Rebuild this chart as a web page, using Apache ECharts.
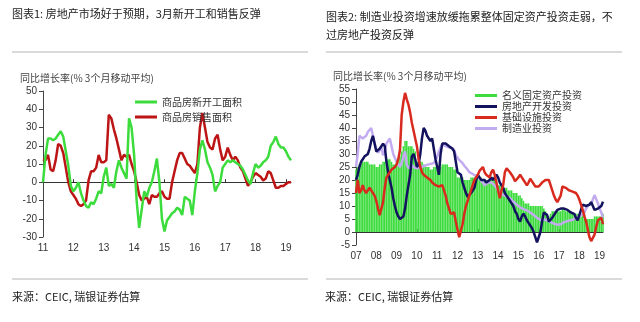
<!DOCTYPE html>
<html>
<head>
<meta charset="utf-8">
<script src="https://cdn.jsdelivr.net/npm/echarts@6/dist/echarts.min.js"></script>
<style>
  html, body { margin: 0; padding: 0; background: #fff; }
  #chart { width: 640px; height: 322px; }
</style>
</head>
<body>
<div id="chart"></div>
<script>
// ---- Chart 1: property starts vs sales (YoY %, 3mma), Jan 2011 - Mar 2019 ----
const startYear1 = 2011;
const newStarts = [
  0, 15, 24, 24, 23, 24, 26, 28, 25, 17, 9, -2,
  -5, -3, 0, -6, -10, -13, -14, -11, -12, -9, -5, -6,
  3, 8, -2, -1, -3, 6, 12, 8, 5, 2, 35, 30,
  15, -10, -25, -15, -5, -8, -3, 0, 6, 13, 0, -20,
  -27, -21, -19, -17, -16, -14, -15, -18, -8, -9, -10, -18,
  -5, 5, 18, 23, 18, 11, 8, 4, -5, -2, 0, 8,
  10, 12, 11, 12, 11, 10, 9, 7, 4, 1, -1, 5,
  10, 8, 9, 11, 12, 14, 20, 22, 25, 21, 19, 19,
  17, 14, 12
];
const sales = [
  12.6, 12, 15, 7, 6, 12, 21, 20, 16, 8, 0, -5,
  -7, -9, -12, -13, -12, -10, 1, 6, 6, 8, 15, 11,
  11, 12, 37, 35, 29, 24, 18, 12, 15, 14, 15, 10,
  6, 0, -7, -10, -9, -8, -12, -7, -8, -8, -6, -5,
  -8, -9, -9, 0, 6, 12, 16, 16, 13, 10, 9, 7,
  5, 10, 30, 38, 30, 22, 19, 18, 24, 26, 18, 12,
  14, 19, 15, 12, 14, 12, 8, 6, 2, -2, 0, 3,
  5, 4, 3, 1, 2, 6, 5, 1, -3, -3, -2, -2,
  -1, 0, 0
];

// ---- Chart 2: investment breakdown (YoY %, 3mma), Jan 2007 - Mar 2019 ----
const startYear2 = 2007;
const faiNominal = [
  24, 25, 26, 26, 27, 27, 27, 27, 26, 26, 26, 26,
  25, 25, 26, 26, 27, 27, 28, 28, 28, 27, 26, 26,
  27, 27, 29, 31, 33, 35, 35, 33, 33, 33, 32, 31,
  27, 27, 27, 27, 26, 25, 25, 25, 24, 24, 25, 25,
  25, 25, 25, 26, 26, 26, 26, 25, 25, 25, 24, 24,
  21, 21, 21, 21, 20, 20, 20, 20, 21, 21, 21, 21,
  21, 21, 21, 20, 20, 20, 20, 20, 20, 20, 20, 20,
  18, 18, 18, 17, 17, 17, 16, 16, 16, 15, 15, 15,
  14, 14, 13, 12, 11, 11, 11, 10, 10, 10, 10, 10,
  10, 10, 10, 9, 8, 7, 6, 7, 8, 8, 8, 8,
  8, 8, 9, 9, 8, 8, 8, 7, 7, 7, 7, 7,
  6, 6, 7, 7, 5, 5, 5, 5, 5, 6, 6, 6,
  6, 6, 7
];
const realEstateInv = [
  20, 22, 25, 27, 28, 29, 29.5, 30, 32, 35, 37, 34,
  31, 31, 32, 33, 34, 33, 27, 23, 20, 17, 13, 10,
  7.5, 6, 5, 4.5, 6, 9, 14, 18, 22, 29, 30, 28,
  25, 26, 30, 36, 40, 39, 37, 36.5, 35, 36, 32, 28,
  25, 22, 30, 34, 34, 34, 33.5, 33, 33, 32, 31, 27,
  23, 23, 22, 19, 17, 15, 13.5, 14, 15, 15, 17, 20,
  22, 21, 20, 20, 20, 19, 19, 20, 21, 20, 21, 22,
  21, 19, 18, 17, 15, 14, 13, 12, 11, 10, 8, 7,
  5, 4, 6, 7, 6, 4.5, 3.5, 2.5, 1.5, 0, -2, -4,
  -3.5, 0, 4, 7.5, 7.5, 6.5, 4, 4.5, 5.5, 6.5, 7.5, 8.5,
  9, 9, 9.5, 9, 9, 8.5, 8, 7.5, 7.5, 7, 5.5, 4.5,
  6.5, 8.5, 10.5, 10, 10, 9.5, 10.5, 11.5, 10, 8.5, 9, 9,
  9, 10, 11.7
];
const infraInv = [
  15, 20, 15, 16, 18, 16, 15, 16, 17, 16, 15, 14,
  12, 9, 6.5, 9, 11.5, 17, 21, 22, 23, 24, 24, 25,
  26, 28, 31.5, 45, 50, 53.5, 51, 49, 46, 42, 39, 36,
  33, 28, 25, 23, 22, 22, 21, 21, 20, 19, 18.5, 18,
  18, 17.5, 17, 18, 18.5, 14, 11, 9, 7, 7.5, 7.5, 4,
  1, -2, -2.5, 3, 7, 10, 12, 14, 16, 18, 20, 21,
  22, 23.5, 24, 25, 23, 22, 22, 21, 23, 24, 22, 19,
  16, 13, 16, 18, 23, 24.5, 24, 23, 22, 21, 19.5, 19,
  21, 22, 21, 20, 19, 18, 19, 20.5, 20, 18.5, 17.5, 17,
  17.5, 18, 19, 19.5, 20, 20.5, 20, 18, 16, 14, 12.5, 11.5,
  11, 14, 17.5, 18, 17, 16.5, 16, 15.5, 15.5, 15, 15, 14,
  12.5, 10.5, 8.5, 6, 4, 1, -2, -3.5, -4, -1, 2, 4.5,
  5, 5.5, 3
];
const manufInv = [
  25, 30, 37, 37, 36, 36.5, 37, 38.5, 39, 40, 37, 34,
  32, 30.5, 31, 32.5, 29.5, 31, 34, 35, 36, 33, 30, 28.5,
  27, 26, 25, 26.5, 29, 31, 26, 24.5, 25, 25.8, 25, 24.5,
  24.5, 24.8, 25, 25, 25.3, 25.6, 25.8, 26, 26.2, 26.3, 26.5, 27.5,
  29, 31, 32.5, 33.8, 33.5, 33, 32.5, 32.5, 32.3, 32.3, 31.5, 29.6,
  28.5, 27.7, 27, 26.5, 25.5, 25, 24, 23, 22.5, 22.3, 22, 21.5,
  21, 20.5, 19.8, 19, 18, 18.5, 19, 19, 19, 18.5, 18, 17,
  16, 15, 14.5, 14.3, 14, 13.7, 13.3, 13, 12.3, 11.7, 11, 10.5,
  10, 9.5, 9, 8.8, 8.5, 8.3, 8, 7.5, 7, 6.5, 6, 5.5,
  5, 4.6, 4.5, 4.8, 5, 4.5, 4, 3.8, 3.5, 3.2, 3, 2.8,
  2.7, 3, 3.5, 3.8, 4, 4.2, 4.4, 4.5, 4.6, 5, 5.4, 5.8,
  6, 6.3, 6.5, 7.5, 9, 10, 10.5, 11, 12.5, 14.2, 13.8, 11,
  9, 7.5, 5.5
];

// Month categories ("YYYY-MM") for each panel
function monthCategories(startYear, count) {
  const out = [];
  for (let i = 0; i < count; i++) {
    out.push(String(startYear + Math.floor(i / 12)) + '-' + String(i % 12 + 1).padStart(2, '0'));
  }
  return out;
}
const months1 = monthCategories(startYear1, newStarts.length);
const months2 = monthCategories(startYear2, faiNominal.length);

const CJK = '"Noto Sans CJK SC", "Liberation Sans", sans-serif';
const NUM = '"Liberation Sans", Arial, "Noto Sans CJK SC", sans-serif';
const AXIS_TITLE = '同比增长率(% 3个月移动平均)';
const SOURCE = '来源：CEIC, 瑞银证券估算';

const isJanuary = (i) => i % 12 === 0;

function zeroAxis(gridIndex, cats) {
  return {
    type: 'category', gridIndex, data: cats, boundaryGap: false,
    axisLine: { onZero: true, lineStyle: { color: '#333', width: 1 } },
    axisTick: { show: true, inside: true, length: 3, interval: isJanuary, lineStyle: { color: '#333' } },
    axisLabel: { show: false }, splitLine: { show: false }
  };
}
function labelAxis(gridIndex, cats) {
  return {
    type: 'category', gridIndex, data: cats, boundaryGap: false, position: 'bottom',
    axisLine: { show: false, onZero: false }, axisTick: { show: false },
    axisLabel: {
      interval: isJanuary, margin: 6, fontSize: 10, color: '#333', fontFamily: NUM,
      formatter: (v) => v.slice(2, 4)
    },
    splitLine: { show: false }
  };
}
function valueAxis(gridIndex, min, max, interval) {
  return {
    type: 'value', gridIndex, min, max, interval,
    axisLine: { show: true, lineStyle: { color: '#444' } },
    axisTick: { show: true, length: 4, lineStyle: { color: '#444' } },
    axisLabel: { fontSize: 10, color: '#333', fontFamily: NUM, margin: 6 },
    splitLine: { show: false }
  };
}

const chart = echarts.init(document.getElementById('chart'), null, { renderer: 'canvas' });
chart.setOption({
  backgroundColor: '#fff',
  animation: false,
  grid: [
    { left: 43, top: 91, width: 248, height: 146 },
    { left: 356, top: 89, width: 247, height: 156 }
  ],
  xAxis: [zeroAxis(0, months1), labelAxis(0, months1), zeroAxis(1, months2), labelAxis(1, months2)],
  yAxis: [valueAxis(0, -30, 50, 10), valueAxis(1, -5, 55, 5)],
  legend: [
    {
      left: 130, top: 92, orient: 'vertical', itemWidth: 22, itemHeight: 3, itemGap: 5,
      icon: 'rect', data: ['商品房新开工面积', '商品房销售面积'],
      textStyle: { fontSize: 10, color: '#333', fontFamily: CJK }
    },
    {
      left: 470, top: 85, orient: 'vertical', itemWidth: 22, itemHeight: 3, itemGap: 0,
      icon: 'rect', data: ['名义固定资产投资', '房地产开发投资', '基础设施投资', '制造业投资'],
      textStyle: { fontSize: 10, lineHeight: 11, color: '#333', fontFamily: CJK }
    }
  ],
  series: [
    {
      name: '商品房销售面积', type: 'line', xAxisIndex: 0, yAxisIndex: 0, data: sales,
      symbol: 'none', lineStyle: { color: '#bd1515', width: 2.5 }, itemStyle: { color: '#bd1515' }
    },
    {
      name: '商品房新开工面积', type: 'line', xAxisIndex: 0, yAxisIndex: 0, data: newStarts,
      symbol: 'none', lineStyle: { color: '#3ddc3d', width: 2.5 }, itemStyle: { color: '#3ddc3d' }
    },
    {
      name: '名义固定资产投资', type: 'bar', xAxisIndex: 2, yAxisIndex: 1, data: faiNominal,
      barCategoryGap: '8%', itemStyle: { color: '#3edb3e' }
    },
    {
      name: '制造业投资', type: 'line', xAxisIndex: 2, yAxisIndex: 1, data: manufInv,
      symbol: 'none', lineStyle: { color: '#c2abf0', width: 2.5 }, itemStyle: { color: '#c2abf0' }
    },
    {
      name: '房地产开发投资', type: 'line', xAxisIndex: 2, yAxisIndex: 1, data: realEstateInv,
      symbol: 'none', lineStyle: { color: '#12125e', width: 2.5 }, itemStyle: { color: '#12125e' }
    },
    {
      name: '基础设施投资', type: 'line', xAxisIndex: 2, yAxisIndex: 1, data: infraInv,
      symbol: 'none', lineStyle: { color: '#d82a1e', width: 2.5 }, itemStyle: { color: '#d82a1e' }
    }
  ],
  graphic: [
    { type: 'text', left: 12, top: 8, style: { text: '图表1: 房地产市场好于预期，3月新开工和销售反弹', fontSize: 11, fill: '#222', fontFamily: CJK } },
    { type: 'text', left: 326, top: 8, style: { text: '图表2: 制造业投资增速放缓拖累整体固定资产投资走弱，不\n过房地产投资反弹', fontSize: 11, lineHeight: 18, fill: '#222', fontFamily: CJK } },
    { type: 'rect', shape: { x: 12, y: 51, width: 296, height: 2 }, style: { fill: '#dadada' } },
    { type: 'rect', shape: { x: 326, y: 51, width: 296, height: 2 }, style: { fill: '#dadada' } },
    { type: 'text', left: 20, top: 73, style: { text: AXIS_TITLE, fontSize: 10, fill: '#444', fontFamily: CJK } },
    { type: 'text', left: 333, top: 71, style: { text: AXIS_TITLE, fontSize: 10, fill: '#444', fontFamily: CJK } },
    { type: 'rect', shape: { x: 12, y: 278, width: 296, height: 2 }, style: { fill: '#dadada' } },
    { type: 'rect', shape: { x: 326, y: 278, width: 296, height: 2 }, style: { fill: '#dadada' } },
    { type: 'text', left: 12, top: 291, style: { text: SOURCE, fontSize: 11, fill: '#222', fontFamily: CJK } },
    { type: 'text', left: 325, top: 291, style: { text: SOURCE, fontSize: 11, fill: '#222', fontFamily: CJK } }
  ]
});
</script>
</body>
</html>
